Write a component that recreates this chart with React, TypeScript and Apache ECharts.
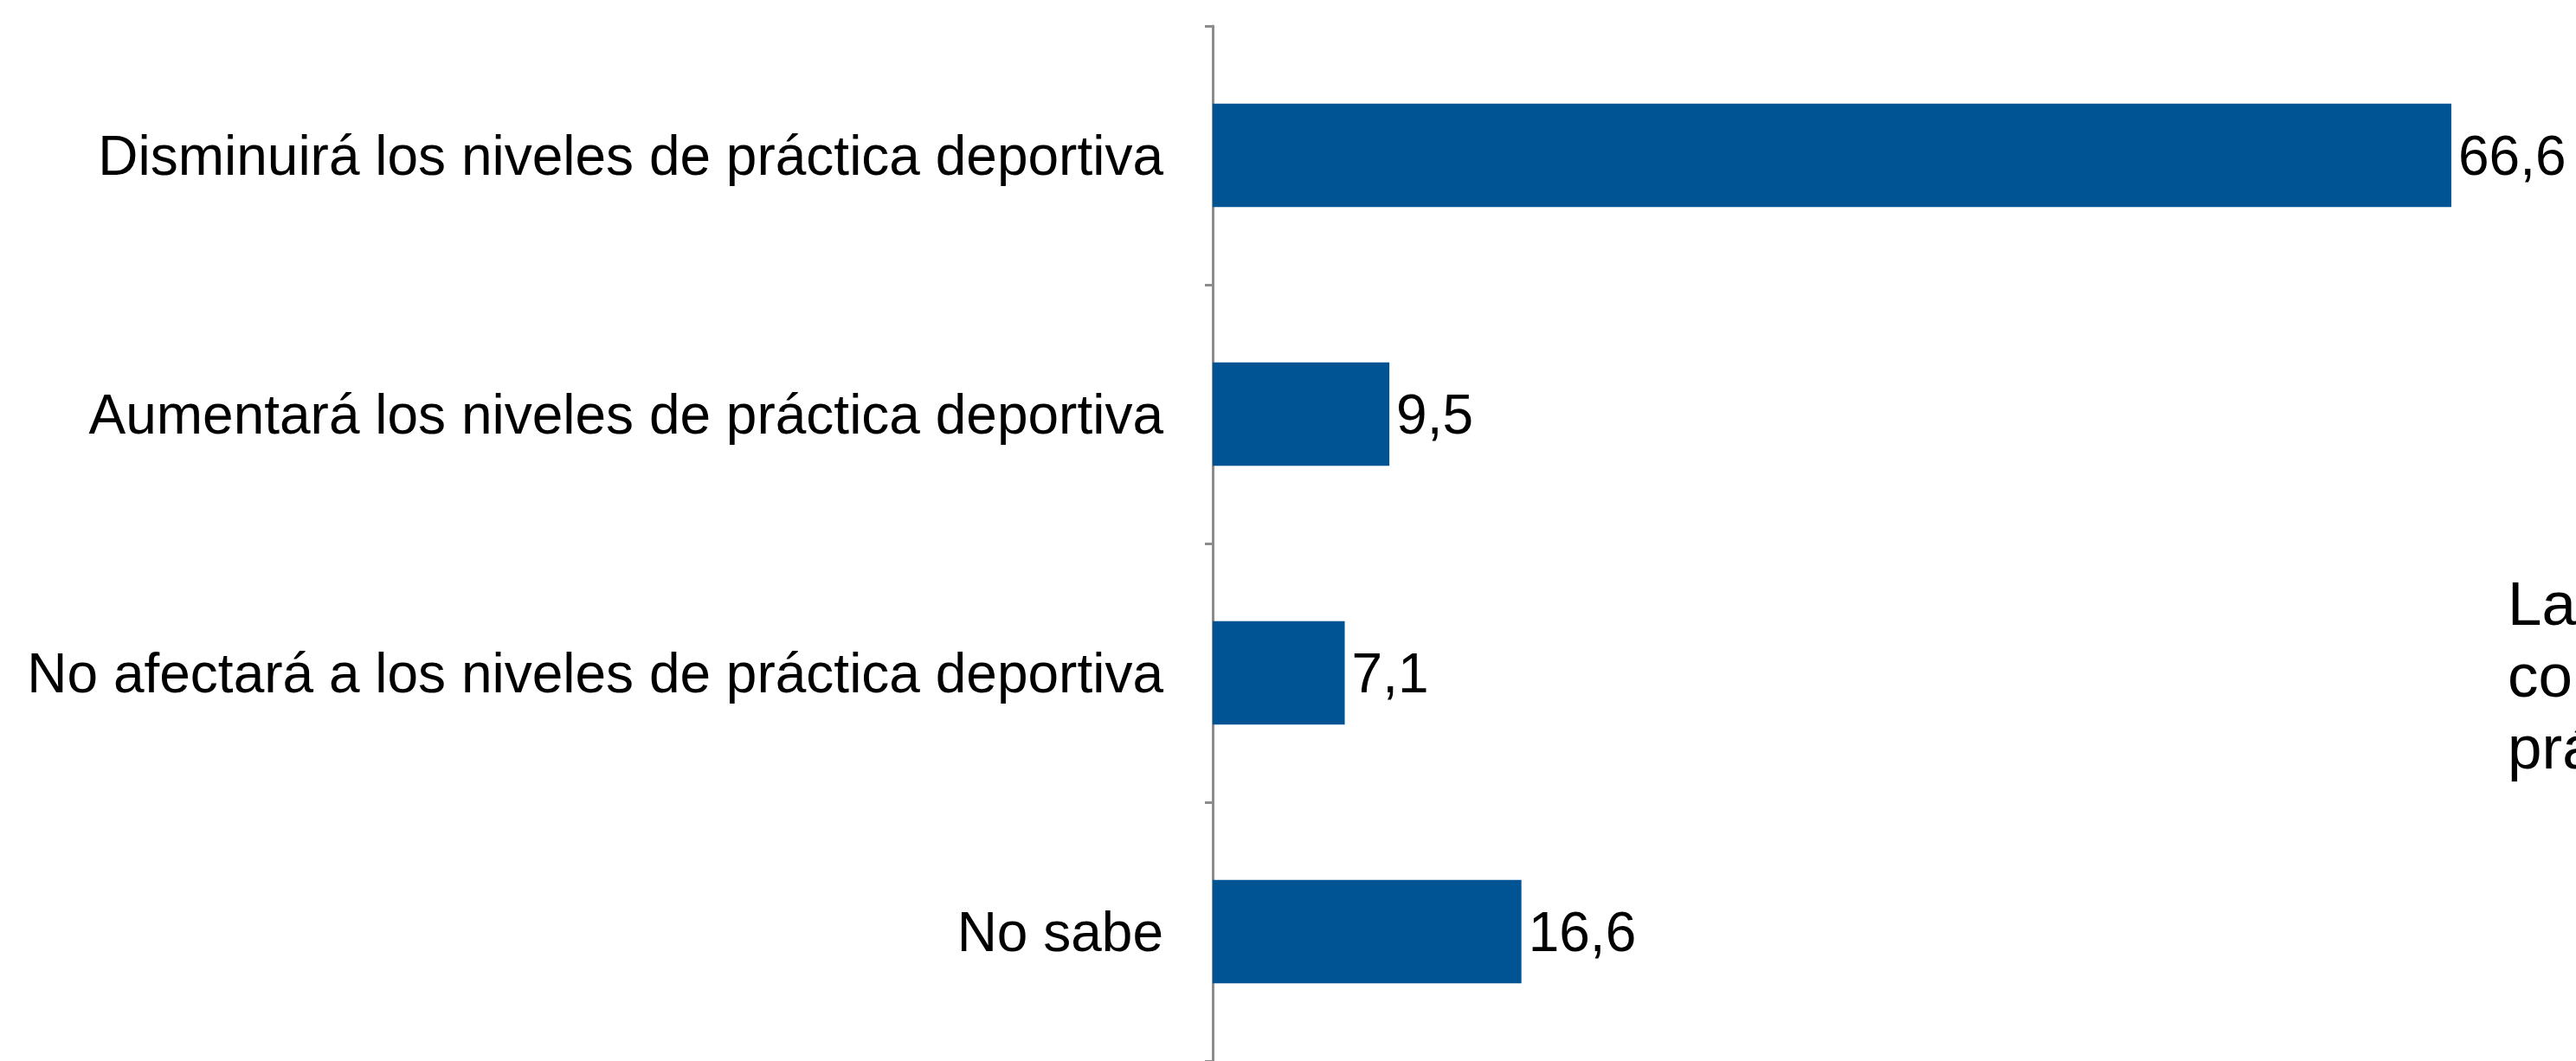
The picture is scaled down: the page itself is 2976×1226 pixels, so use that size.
import React, { useEffect, useRef } from "react";
import * as echarts from "echarts";

const categories = [
  "Disminuirá los niveles de práctica deportiva",
  "Aumentará los niveles de práctica deportiva",
  "No afectará a los niveles de práctica deportiva",
  "No sabe",
];
const values = [66.6, 9.5, 7.1, 16.6];
const sideTextLines = ["La", "con", "prá"];

export default function App() {
  const ref = useRef<HTMLDivElement>(null);
  useEffect(() => {
    if (!ref.current) return;
    const chart = echarts.init(ref.current, undefined, { renderer: "svg" });
    chart.setOption({
      animation: false,
      backgroundColor: "#ffffff",
      grid: { left: 1401, top: 30, width: 1504, height: 1200, containLabel: false },
      xAxis: {
        type: "value",
        min: 0,
        max: 70,
        show: false,
      },
      yAxis: {
        type: "category",
        data: categories,
        inverse: true,
        axisLine: { show: true, lineStyle: { color: "#8c8c8c", width: 3 } },
        axisTick: { show: true, inside: false, length: 9, lineStyle: { color: "#8c8c8c", width: 3 } },
        axisLabel: {
          margin: 57,
          color: "#000000",
          fontFamily: "Liberation Sans, Arial, sans-serif",
          fontSize: 64,
        },
        splitLine: { show: false },
      },
      series: [
        {
          type: "bar",
          data: values,
          barWidth: "40%",
          itemStyle: { color: "#015493" },
          label: {
            show: true,
            position: "right",
            distance: 8,
            color: "#000000",
            fontFamily: "Liberation Sans, Arial, sans-serif",
            fontSize: 64,
            formatter: (p: any) => String(p.value).replace(".", ","),
          },
        },
      ],
      graphic: [
        {
          type: "text",
          left: 2897,
          top: 656,
          style: {
            text: sideTextLines.join("\n"),
            fill: "#000000",
            font: "71px 'Liberation Sans', Arial, sans-serif",
            lineHeight: 83,
          },
        },
      ],
    });
    return () => chart.dispose();
  }, []);
  return (
    <div
      ref={ref}
      style={{ position: "fixed", left: 0, top: 0, width: 2976, height: 1226 }}
    />
  );
}
